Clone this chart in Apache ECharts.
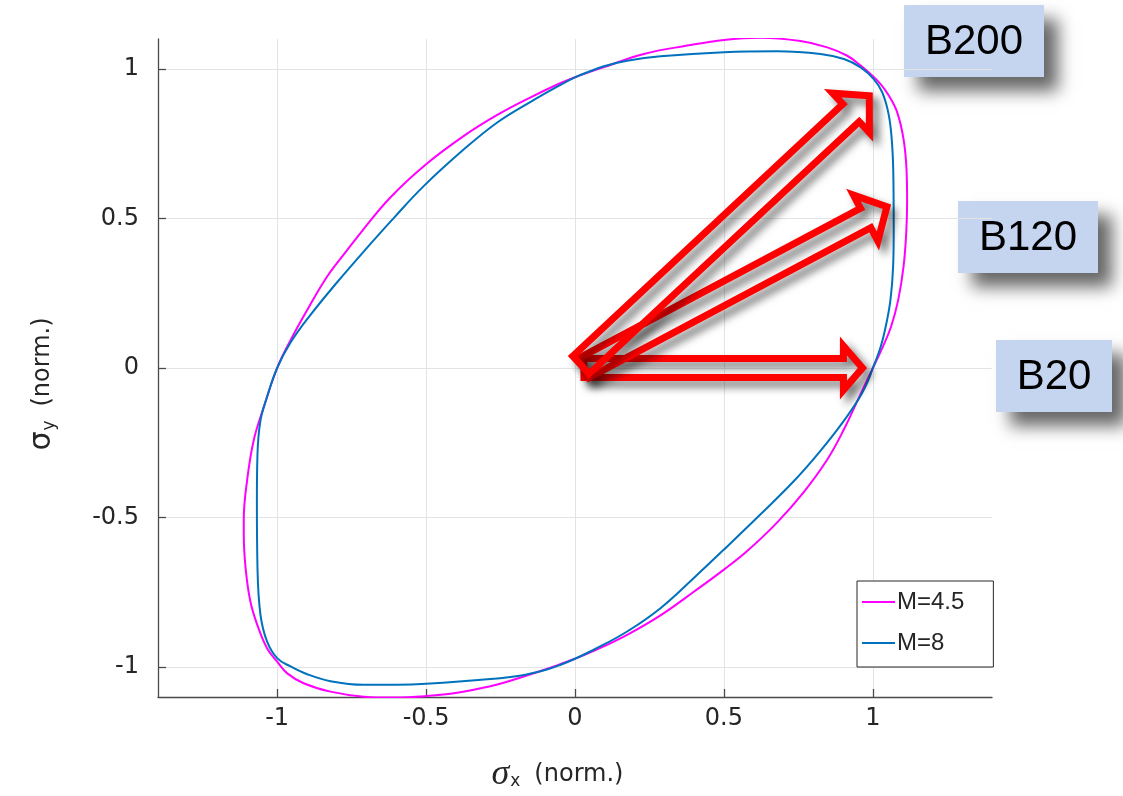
<!DOCTYPE html>
<html>
<head>
<meta charset="utf-8">
<script src="https://cdn.jsdelivr.net/npm/echarts@6/dist/echarts.min.js"></script>
<style>
  html, body { margin: 0; padding: 0; background: #ffffff; }
  #chart { width: 1123px; height: 796px; }
</style>
</head>
<body>
<div id="chart"></div>
<script>
// Tick values shown on both axes
const xTicks = [-1, -0.5, 0, 0.5, 1];
const yTicks = [-1, -0.5, 0, 0.5, 1];

// Legend names of the two yield loci
const seriesNames = ['M=4.5', 'M=8'];

// Normalised yield locus, exponent M = 4.5 (sigma_x, sigma_y), counter-clockwise
const locusM45 = [
  [1.000, 0.000], [1.033, 0.070], [1.061, 0.138], [1.085, 0.227], [1.103, 0.339],
  [1.112, 0.451], [1.115, 0.560], [1.113, 0.664], [1.103, 0.765], [1.082, 0.854],
  [1.054, 0.910], [1.026, 0.949], [0.992, 0.983], [0.959, 1.011], [0.914, 1.044],
  [0.847, 1.072], [0.757, 1.093], [0.623, 1.104], [0.500, 1.097], [0.377, 1.078],
  [0.231, 1.050], [0.100, 1.007], [0.050, 0.990], [0.000, 0.972], [-0.050, 0.952],
  [-0.149, 0.905], [-0.261, 0.846], [-0.373, 0.776], [-0.500, 0.681], [-0.620, 0.570],
  [-0.715, 0.458], [-0.765, 0.394], [-0.832, 0.306], [-0.899, 0.194], [-0.955, 0.093],
  [-1.000, 0.000], [-1.045, -0.131], [-1.079, -0.243], [-1.101, -0.377], [-1.112, -0.506],
  [-1.112, -0.556], [-1.106, -0.668], [-1.090, -0.780], [-1.067, -0.858], [-1.034, -0.937],
  [-1.000, -0.982], [-0.966, -1.021], [-0.911, -1.054], [-0.821, -1.082], [-0.709, -1.099],
  [-0.608, -1.102], [-0.500, -1.097], [-0.396, -1.086], [-0.284, -1.064], [-0.231, -1.050],
  [-0.100, -1.008], [-0.050, -0.990], [0.000, -0.972], [0.063, -0.946], [0.175, -0.892],
  [0.287, -0.827], [0.399, -0.748], [0.500, -0.674], [0.578, -0.612], [0.679, -0.516],
  [0.768, -0.415], [0.847, -0.306], [0.903, -0.205], [0.955, -0.095], [1.000, 0.000]
];

// Normalised yield locus, exponent M = 8
const locusM8 = [
  [1.000, 0.000], [1.026, 0.070], [1.043, 0.138], [1.059, 0.227], [1.068, 0.339],
  [1.070, 0.462], [1.069, 0.630], [1.065, 0.742], [1.054, 0.843], [1.032, 0.921],
  [1.003, 0.966], [0.959, 1.005], [0.903, 1.033], [0.824, 1.050], [0.679, 1.059],
  [0.500, 1.056], [0.287, 1.042], [0.175, 1.027], [0.097, 1.009], [0.050, 0.992],
  [0.000, 0.972], [-0.050, 0.946], [-0.149, 0.890], [-0.261, 0.821], [-0.373, 0.731],
  [-0.508, 0.608], [-0.608, 0.502], [-0.700, 0.400], [-0.800, 0.285], [-0.890, 0.175],
  [-0.955, 0.085], [-1.000, 0.000], [-1.034, -0.097], [-1.056, -0.176], [-1.066, -0.287],
  [-1.068, -0.444], [-1.066, -0.668], [-1.056, -0.825], [-1.034, -0.914], [-1.000, -0.970],
  [-0.955, -0.998], [-0.899, -1.024], [-0.821, -1.047], [-0.709, -1.059], [-0.597, -1.059],
  [-0.500, -1.056], [-0.284, -1.040], [-0.175, -1.027], [-0.097, -1.009], [-0.050, -0.993],
  [0.000, -0.972], [0.063, -0.942], [0.175, -0.881], [0.287, -0.803], [0.399, -0.702],
  [0.500, -0.607], [0.623, -0.489], [0.735, -0.378], [0.824, -0.277], [0.903, -0.176],
  [0.965, -0.082], [1.000, 0.000]
];

// Load-path arrows: name, start point and end point (stress space)
const arrowNames = ['B20', 'B120', 'B200'];
const arrowTails = [[0.03, 0.000], [0.03, 0.000], [0.02, 0.010]];
const arrowTips  = [[0.965, 0.000], [1.047, 0.539], [0.988, 0.910]];

// ---------------------------------------------------------------------------
const FONT = '"Liberation Sans", Arial, Helvetica, sans-serif';
const FONT_WIDE = '"DejaVu Sans", Verdana, sans-serif';
const TEXT = '#262626';

// Arrow outline geometry in pixels: body half-width, head half-width, head length
const ARROW_GEOM = {
  B20:  { body: 9.5,  head: 22, len: 19 },
  B120: { body: 11,   head: 26, len: 24 },
  B200: { body: 12,   head: 27, len: 25 }
};

const arrowData = arrowNames.map((n, i) => ({
  name: n,
  value: [arrowTails[i][0], arrowTails[i][1], arrowTips[i][0], arrowTips[i][1]]
}));

function renderArrow(params, api) {
  const p0 = api.coord([api.value(0), api.value(1)]);
  const p1 = api.coord([api.value(2), api.value(3)]);
  const g = ARROW_GEOM[arrowNames[params.dataIndex]];
  const dx = p1[0] - p0[0], dy = p1[1] - p0[1];
  const L = Math.hypot(dx, dy);
  const ux = dx / L, uy = dy / L, nx = -uy, ny = ux;
  const b = L - g.len;
  const pt = (along, side) => [p0[0] + ux * along + nx * side, p0[1] + uy * along + ny * side];
  const points = [
    pt(0, g.body), pt(b, g.body), pt(b, g.head), [p1[0], p1[1]],
    pt(b, -g.head), pt(b, -g.body), pt(0, -g.body)
  ];
  return {
    type: 'polygon',
    shape: { points },
    style: {
      fill: 'none',
      stroke: '#ff0000',
      lineWidth: 7,
      lineJoin: 'miter',
      miterLimit: 10,
      shadowColor: 'rgba(0,0,0,0.55)',
      shadowBlur: 9,
      shadowOffsetX: 6,
      shadowOffsetY: 6
    }
  };
}

// Callout boxes naming each load path
const calloutBoxes = [
  { text: 'B200', x: 904, y: 5,   w: 140, h: 72 },
  { text: 'B120', x: 958, y: 201, w: 140, h: 72 },
  { text: 'B20',  x: 996, y: 340, w: 116, h: 72 }
];

const graphic = calloutBoxes.map(c => ({
  type: 'group',
  left: c.x,
  top: c.y,
  z: 100,
  children: [
    {
      type: 'rect',
      shape: { x: 0, y: 0, width: c.w, height: c.h },
      style: {
        fill: '#c5d5f0',
        shadowColor: 'rgba(0,0,0,0.6)',
        shadowBlur: 16,
        shadowOffsetX: 14,
        shadowOffsetY: 14
      }
    },
    {
      type: 'text',
      x: c.w / 2,
      y: c.h / 2 + 1,
      style: {
        text: c.text,
        fill: '#000000',
        font: '42px ' + FONT,
        align: 'center',
        verticalAlign: 'middle'
      }
    }
  ]
}));

const axisCommon = {
  type: 'value',
  nameLocation: 'middle',
  nameMoveOverlap: false,
  axisLine: { show: true, onZero: false, lineStyle: { color: '#4a4a4a', width: 1.3 } },
  axisTick: { show: true, inside: true, length: 8, lineStyle: { color: '#4a4a4a', width: 1.3 } },
  splitLine: { show: true, lineStyle: { color: '#e3e3e3', width: 1 } },
  minorTick: { show: false },
  axisLabel: {
    color: TEXT,
    fontFamily: FONT_WIDE,
    fontSize: 24,
    showMinLabel: true,
    showMaxLabel: true,
    hideOverlap: false,
    formatter: v => String(v)
  }
};

const option = {
  backgroundColor: '#ffffff',
  animation: false,
  grid: { left: 158, top: 39, width: 834, height: 658, outerBoundsMode: 'none', containLabel: false },
  xAxis: Object.assign({}, axisCommon, {
    min: -1.4, max: 1.4,
    name: '{s|σ}{sub|x}{n|(norm.)}',
    nameGap: 60,
    nameTextStyle: {
      padding: [0, 35, 0, 0],
      rich: {
        s: { fontFamily: '"Liberation Serif", "DejaVu Serif", serif', fontStyle: 'italic', fontSize: 36, color: TEXT },
        sub: { fontFamily: FONT_WIDE, fontSize: 17, color: TEXT, padding: [14, 14, 0, 1] },
        n: { fontFamily: FONT_WIDE, fontSize: 24, color: TEXT }
      }
    },
    axisTick: Object.assign({}, axisCommon.axisTick, { customValues: xTicks }),
    axisLabel: Object.assign({}, axisCommon.axisLabel, { customValues: xTicks, margin: 10 })
  }),
  yAxis: Object.assign({}, axisCommon, {
    min: -1.1, max: 1.1,
    name: '{s|σ}{sub|y}{n|(norm.)}',
    nameGap: 100,
    nameTextStyle: {
      padding: [0, 32, 0, 0],
      rich: {
        s: { fontFamily: FONT_WIDE, fontSize: 30, color: TEXT },
        sub: { fontFamily: FONT_WIDE, fontSize: 17, color: TEXT, padding: [14, 14, 0, 1] },
        n: { fontFamily: FONT_WIDE, fontSize: 24, color: TEXT }
      }
    },
    axisTick: Object.assign({}, axisCommon.axisTick, { customValues: yTicks }),
    axisLabel: Object.assign({}, axisCommon.axisLabel, { customValues: yTicks, margin: 19, padding: [0, 0, 21, 0] })
  }),
  legend: {
    data: seriesNames,
    orient: 'vertical',
    left: 857,
    top: 581,
    icon: 'rect',
    itemWidth: 33,
    itemHeight: 2,
    itemGap: 17,
    padding: [9, 29, 12, 5],
    borderColor: '#262626',
    borderWidth: 1,
    backgroundColor: '#ffffff',
    textStyle: { color: TEXT, fontFamily: FONT, fontSize: 24, padding: [0, 0, 0, -3] },
    selectedMode: false
  },
  series: [
    {
      name: seriesNames[0],
      type: 'line',
      data: locusM45,
      smooth: 0.4,
      symbol: 'none',
      color: '#ff00ff',
      lineStyle: { color: '#ff00ff', width: 2 },
      z: 3
    },
    {
      name: seriesNames[1],
      type: 'line',
      data: locusM8,
      smooth: 0.4,
      symbol: 'none',
      color: '#0072bd',
      lineStyle: { color: '#0072bd', width: 2 },
      z: 4
    },
    {
      name: 'arrows',
      type: 'custom',
      data: arrowData,
      encode: { x: [0, 2], y: [1, 3] },
      renderItem: renderArrow,
      clip: false,
      silent: true,
      z: 10
    }
  ],
  graphic: graphic
};

const chart = echarts.init(document.getElementById('chart'), null, { renderer: 'canvas' });
chart.setOption(option);
</script>
</body>
</html>
